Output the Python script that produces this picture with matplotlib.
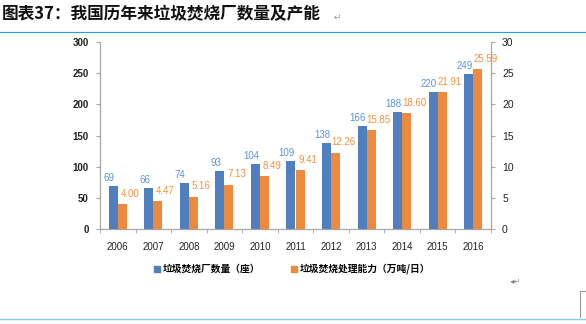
import matplotlib
matplotlib.use("Agg")
import matplotlib.pyplot as plt
from matplotlib.lines import Line2D
import numpy as np

years = ["2006", "2007", "2008", "2009", "2010", "2011", "2012", "2013", "2014", "2015", "2016"]
plants = [69, 66, 74, 93, 104, 109, 138, 166, 188, 220, 249]
capacity = [4.00, 4.47, 5.16, 7.13, 8.49, 9.41, 12.26, 15.85, 18.60, 21.91, 25.59]
left_ticks = [0, 50, 100, 150, 200, 250, 300]
right_ticks = [0, 5, 10, 15, 20, 25, 30]
title = "图表37：我国历年来垃圾焚烧厂数量及产能"
legend_labels = ["垃圾焚烧厂数量（座）", "垃圾焚烧处理能力（万吨/日）"]

CJK = ["Noto Sans CJK SC", "DejaVu Sans"]
NARROW = ["Liberation Sans Narrow", "Liberation Sans", "DejaVu Sans"]
plt.rcParams["font.family"] = CJK

BLUE = "#4F7FBF"
ORANGE = "#EE8A3E"
BLUE_T = "#5B93D8"
ORANGE_T = "#F5923F"
GRAY = "#A6A6A6"

W, H = 586, 324
fig = plt.figure(figsize=(W / 100, H / 100), dpi=100)
fig.patch.set_facecolor("white")

ax = fig.add_axes([100 / W, 1 - 229 / H, 391 / W, 187 / H])
ax2 = ax.twinx()

x = np.arange(len(years))
bw = 0.255
ax.bar(x - bw / 2, plants, width=bw, color=BLUE, zorder=3)
ax2.bar(x + bw / 2, capacity, width=bw, color=ORANGE, zorder=3)

ax.set_xlim(-0.5, len(years) - 0.5)
ax.set_ylim(0, 300)
ax2.set_ylim(0, 30)
ax.set_yticks(left_ticks)
ax2.set_yticks(right_ticks)
ax.set_xticks(x)
ax.set_xticklabels(years)
ax.set_xticks(np.arange(-0.5, len(years), 1.0), minor=True)

for a in (ax, ax2):
    a.spines["top"].set_visible(False)
    for s in ("left", "right", "bottom"):
        a.spines[s].set_color(GRAY)
        a.spines[s].set_linewidth(0.8)

ax.tick_params(axis="x", which="major", length=0, pad=9, labelsize=7, labelcolor="#222222")
ax.tick_params(axis="x", which="minor", length=3, color=GRAY, direction="out")
ax.tick_params(axis="y", length=3, color=GRAY, pad=5, labelsize=7, labelcolor="#222222")
ax2.tick_params(axis="y", length=3, color=GRAY, pad=5, labelsize=7.5, labelcolor="#222222")
for lab in ax.get_xticklabels():
    lab.set_fontfamily(NARROW)
for lab in ax.get_yticklabels():
    lab.set_fontfamily(NARROW)
    lab.set_fontweight("bold")
for lab in ax2.get_yticklabels():
    lab.set_fontfamily(NARROW)

for i in range(len(years)):
    ax.annotate(f"{plants[i]}", (x[i] - bw / 2, plants[i]), xytext=(-3, 2),
                textcoords="offset points", ha="center", va="bottom",
                fontsize=7, color=BLUE_T, family=NARROW)
    ax2.annotate(f"{capacity[i]:.2f}", (x[i] + bw / 2, capacity[i]), xytext=(5.5, 4),
                 textcoords="offset points", ha="center", va="bottom",
                 fontsize=7, color=ORANGE_T, family=NARROW)

handles = [Line2D([], [], marker="s", linestyle="none", markersize=4.5, color=BLUE),
           Line2D([], [], marker="s", linestyle="none", markersize=4.5, color=ORANGE)]
fig.legend(handles, legend_labels, loc="center", bbox_to_anchor=(292 / W, 1 - 269 / H),
           ncol=2, frameon=False, prop={"family": CJK, "weight": "bold", "size": 7},
           handlelength=0.6, handletextpad=0.3, columnspacing=3.2)

fig.text(2 / W, 1 - 14 / H, title, fontsize=12, fontweight="bold", style="italic",
         ha="left", va="center", family=CJK, color="#111111")
fig.text(334 / W, 1 - 17 / H, "↵", fontsize=6.5, color="#999999", ha="left", va="center",
         family=["DejaVu Sans"])
fig.text(510 / W, 1 - 281 / H, "◂↵", fontsize=6, color="#888888", ha="left", va="center",
         family=["DejaVu Sans"])

fig.add_artist(Line2D([0, 1], [1 - 32 / H, 1 - 32 / H], transform=fig.transFigure,
                      color="#1FA0E0", linewidth=0.8))
fig.add_artist(Line2D([0, 1], [1 - 319 / H, 1 - 319 / H], transform=fig.transFigure,
                      color="#8ECBEA", linewidth=1.0))
fig.add_artist(Line2D([580 / W, 580 / W], [1 - 291 / H, 1 - 317 / H], transform=fig.transFigure,
                      color="#999999", linewidth=0.8))
fig.add_artist(Line2D([580 / W, 586 / W], [1 - 291 / H, 1 - 291 / H], transform=fig.transFigure,
                      color="#999999", linewidth=0.8))

fig.savefig("out.png", dpi=100, facecolor="white")
